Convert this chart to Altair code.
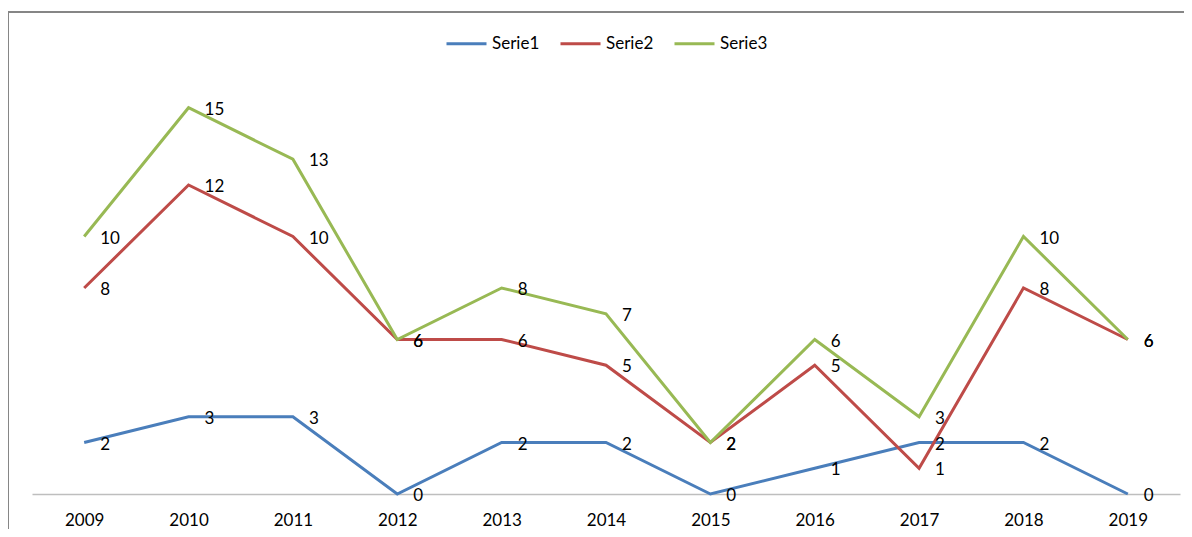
import altair as alt
import pandas as pd

years = ["2009", "2010", "2011", "2012", "2013", "2014", "2015", "2016", "2017", "2018", "2019"]
serie1 = [2, 3, 3, 0, 2, 2, 0, 1, 2, 2, 0]
serie2 = [8, 12, 10, 6, 6, 5, 2, 5, 1, 8, 6]
serie3 = [10, 15, 13, 6, 8, 7, 2, 6, 3, 10, 6]
series_names = ["Serie1", "Serie2", "Serie3"]
colors = ["#4A7EBB", "#BE4B48", "#98B954"]

rows = []
for name, vals in zip(series_names, [serie1, serie2, serie3]):
    for y, v in zip(years, vals):
        rows.append({"year": y, "value": v, "series": name})
df = pd.DataFrame(rows)

FONT = "Lato"

x_enc = alt.X("year:O", sort=years, title=None,
              scale=alt.Scale(type="point", padding=0.5),
              axis=alt.Axis(labelAngle=0, ticks=False, domainColor="#BEBEBE",
                            domainWidth=1.5, labelFont=FONT, labelFontSize=17,
                            labelColor="#000000", labelPadding=18, grid=False))
y_enc = alt.Y("value:Q", title=None,
              scale=alt.Scale(domain=[0, 16], nice=False),
              axis=None)

base = alt.Chart(df)

lines = base.mark_line(strokeWidth=3).encode(
    x=x_enc,
    y=y_enc,
    color=alt.Color("series:N", sort=series_names,
                    scale=alt.Scale(domain=series_names, range=colors),
                    legend=alt.Legend(title=None, orient="none", direction="horizontal",
                                      legendX=413, legendY=-60,
                                      symbolType="stroke", symbolSize=1600,
                                      symbolStrokeWidth=3, labelFont=FONT,
                                      labelFontSize=17, labelColor="#000000",
                                      labelOffset=4, columnPadding=14)),
)

labels = base.mark_text(align="left", baseline="middle", dx=16, dy=2,
                        font=FONT, fontSize=17, color="#000000").encode(
    x=alt.X("year:O", sort=years),
    y=alt.Y("value:Q"),
    text=alt.Text("value:Q"),
)

frame = alt.Chart(pd.DataFrame({"k": [0]})).mark_rect(
    fill=None, stroke="#868686", strokeWidth=2, clip=False
).encode(
    x=alt.value(-24), x2=alt.value(1300),
    y=alt.value(-70), y2=alt.value(700),
)

chart = alt.layer(frame, lines, labels).properties(
    width=1148, height=412,
    background="white",
    autosize=alt.AutoSizeParams(type="none"),
    padding={"left": 24, "top": 74, "right": 4, "bottom": 35},
).configure_view(strokeOpacity=0, strokeWidth=0)

chart.save("out.html", embed_options={"renderer": "svg", "actions": False})
